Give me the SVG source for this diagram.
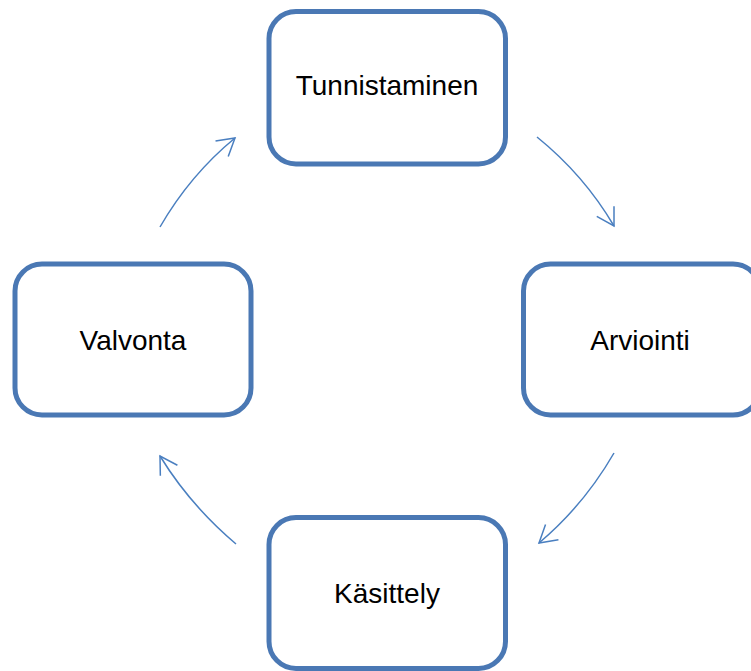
<svg xmlns="http://www.w3.org/2000/svg" width="751" height="671" viewBox="0 0 751 671">
<style>
.box{fill:#ffffff;stroke:#4a78b4;stroke-width:5}
.lbl{font-family:"Liberation Sans",Arial,sans-serif;font-size:28px;fill:#000000;text-anchor:middle}
.arr{fill:none;stroke:#4a7fc0;stroke-width:1.5;marker-end:url(#ah)}
</style>
<defs>
<marker id="ah" markerUnits="userSpaceOnUse" markerWidth="30" markerHeight="30" refX="20" refY="12" orient="auto">
<path d="M3,2 L20,12 L3,22" fill="none" stroke="#4a7fc0" stroke-width="1.5"/>
</marker>
</defs>
<rect width="751" height="671" fill="#ffffff"/>
<g id="connectors">
<path class="arr" d="M537,137 Q584,175 614,226"/>
<path class="arr" d="M614,453 Q584,505 539,543"/>
<path class="arr" d="M236,544 Q190,505 160,456"/>
<path class="arr" d="M160,227 Q190,175 235,138"/>
</g>
<g id="tunnistaminen">
<rect class="box" x="269" y="11.5" width="236.5" height="152.5" rx="27"/>
<text class="lbl" x="387" y="95">Tunnistaminen</text>
</g>
<g id="arviointi">
<rect class="box" x="523.5" y="264" width="236.5" height="151" rx="27"/>
<text class="lbl" x="640" y="350">Arviointi</text>
</g>
<g id="kasittely">
<rect class="box" x="269" y="517.5" width="236.5" height="151" rx="27"/>
<text class="lbl" x="387" y="603">Käsittely</text>
</g>
<g id="valvonta">
<rect class="box" x="15" y="264" width="236" height="151" rx="27"/>
<text class="lbl" x="133" y="350">Valvonta</text>
</g>
</svg>
